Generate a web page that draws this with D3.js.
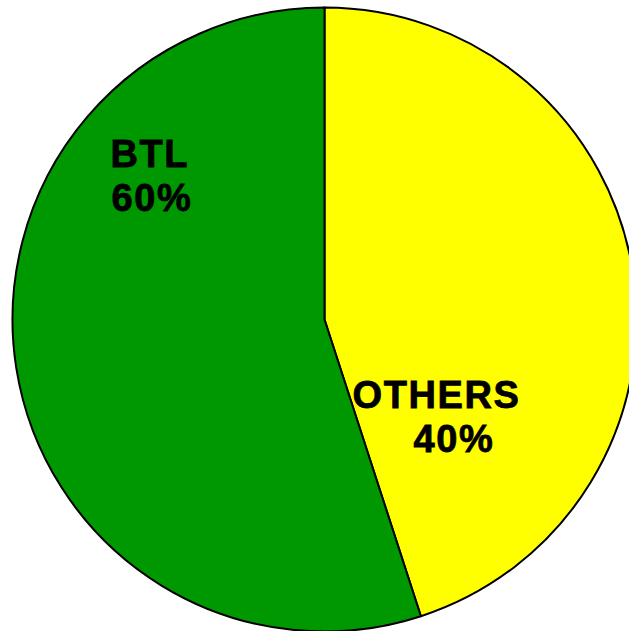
<!DOCTYPE html>
<html>
<head>
<meta charset="utf-8">
<script src="https://cdn.jsdelivr.net/npm/d3@7"></script>
<style>
  html, body { margin: 0; padding: 0; background: #fff; }
  svg { display: block; }
</style>
</head>
<body>
<div id="chart"></div>
<script>
// slice values as drawn (the printed labels read 40% / 60%)
const categories = ["OTHERS", "BTL"];
const sliceValues = [45, 55];
const pctLabels = ["40%", "60%"];
const colours = ["#ffff00", "#009800"];

const width = 629;
const height = 631;
const cx = 324.5;
const cy = 319.5;
const radius = 312;

const svg = d3.select("#chart")
    .append("svg")
    .attr("width", width)
    .attr("height", height);

const g = svg.append("g")
    .attr("transform", `translate(${cx}, ${cy})`);

const pie = d3.pie()
    .sort(null)
    .value(d => d.value);

const arc = d3.arc()
    .innerRadius(0)
    .outerRadius(radius);

const slices = pie(categories.map((c, i) => ({
    name: c, value: sliceValues[i], pct: pctLabels[i], colour: colours[i]
})));

g.selectAll("path")
    .data(slices)
    .enter()
    .append("path")
    .attr("d", arc)
    .attr("fill", d => d.data.colour)
    .attr("stroke", "#000")
    .attr("stroke-width", 2)
    .attr("stroke-linejoin", "round");

// label placement, relative to pie centre
const labelPos = {
    "OTHERS": [{ x: 28, y: 88 }, { x: 89, y: 132 }],
    "BTL": [{ x: -214, y: -153 }, { x: -213, y: -109 }]
};

slices.forEach(d => {
    const p = labelPos[d.data.name];
    [d.data.name, d.data.pct].forEach((t, i) => {
        g.append("text")
            .attr("x", p[i].x)
            .attr("y", p[i].y)
            .attr("font-family", "Liberation Sans, Arial, sans-serif")
            .attr("font-weight", "bold")
            .attr("font-size", "38px")
            .attr("letter-spacing", "1.6px")
            .attr("fill", "#000")
            .attr("stroke", "#000")
            .attr("stroke-width", 0.8)
            .text(t);
    });
});
</script>
</body>
</html>
